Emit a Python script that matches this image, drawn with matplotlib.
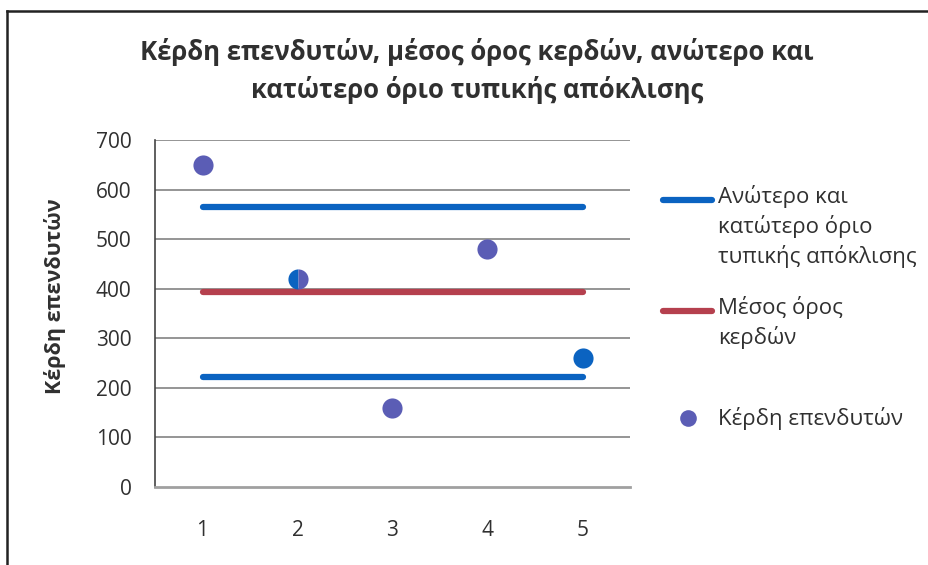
#!/usr/bin/env python3

import matplotlib
matplotlib.use('Agg')
import matplotlib.pyplot as plt
from matplotlib.lines import Line2D

# data
investors = [1, 2, 3, 4, 5]
profits = [650, 420, 160, 480, 260]
mean_profit = [393, 393, 393, 393, 393]
upper_sd = [565, 565, 565, 565, 565]
lower_sd = [222, 222, 222, 222, 222]

title = 'Κέρδη επενδυτών, μέσος όρος κερδών, ανώτερο και\nκατώτερο όριο τυπικής απόκλισης'
ylabel = 'Κέρδη επενδυτών'
label_sd = 'Ανώτερο και\nκατώτερο όριο\nτυπικής απόκλισης'
label_mean = 'Μέσος όρος\nκερδών'
label_pts = 'Κέρδη επενδυτών'

blue = '#0b63c1'
red = '#b5404e'
purple = '#5b5db5'
txt = '#303030'

plt.rcParams['font.family'] = ['Open Sans', 'DejaVu Sans']

W, H = 929, 565
fig = plt.figure(figsize=(W / 100, H / 100), dpi=100)
ax = fig.add_axes([155 / W, 1 - 487 / H, 475 / W, 347 / H])

for y in range(100, 701, 100):
    ax.axhline(y, color='#8c8c8c', lw=1.3, zorder=0)

ax.plot(investors, upper_sd, color=blue, lw=4.5, solid_capstyle='round', zorder=2)
ax.plot(investors, lower_sd, color=blue, lw=4.5, solid_capstyle='round', zorder=2)
ax.plot(investors, mean_profit, color=red, lw=4.5, solid_capstyle='round', zorder=2)

pt_colors = [purple, purple, purple, purple, blue]
for x, y, c in zip(investors, profits, pt_colors):
    if x == 2:
        ax.plot(x, y, 'o', ms=14.5, markeredgewidth=0, fillstyle='left',
                markerfacecolor=blue, markerfacecoloralt=purple, zorder=3)
    else:
        ax.plot(x, y, 'o', ms=14.5, markeredgewidth=0, color=c, zorder=3)

ax.set_xlim(0.5, 5.5)
ax.set_ylim(0, 700)
ax.set_xticks(investors)
ax.set_yticks(range(0, 701, 100))
ax.tick_params(axis='both', length=0, labelsize=15, labelcolor=txt)
ax.tick_params(axis='x', pad=24)
ax.tick_params(axis='y', pad=17)
for s in ['top', 'right']:
    ax.spines[s].set_visible(False)
ax.spines['left'].set_color('#444444')
ax.spines['left'].set_linewidth(1.2)
ax.spines['bottom'].set_color('#a0a0a0')
ax.spines['bottom'].set_linewidth(2)

fig.text(477 / W, 1 - 71 / H, title, ha='center', va='center', fontsize=18.5,
         fontweight='bold', color=txt, linespacing=1.45)
fig.text(55 / W, 1 - 296 / H, ylabel, ha='center', va='center', rotation=90,
         fontsize=15.5, fontweight='bold', color=txt)

# legend, drawn by hand to keep the Excel layout
fig.add_artist(Line2D([663 / W, 712 / W], [1 - 200 / H] * 2, color=blue, lw=4.5,
                      solid_capstyle='round'))
fig.add_artist(Line2D([663 / W, 712 / W], [1 - 311 / H] * 2, color=red, lw=4.5,
                      solid_capstyle='round'))
fig.add_artist(Line2D([688 / W], [1 - 418 / H], marker='o', ms=12, color=purple,
                      markeredgewidth=0, linestyle='none'))
fig.text(718 / W, 1 - 185 / H, label_sd, ha='left', va='top', fontsize=16,
         color=txt, linespacing=1.4)
fig.text(718 / W, 1 - 296 / H, label_mean, ha='left', va='top', fontsize=16,
         color=txt, linespacing=1.4)
fig.text(718 / W, 1 - 418 / H, label_pts, ha='left', va='center', fontsize=16,
         color=txt)

# frame around the chart
fig.add_artist(Line2D([7 / W, 7 / W], [0, 1 - 11 / H], color='#222222', lw=1.8))
fig.add_artist(Line2D([7 / W, 1], [1 - 11 / H] * 2, color='#222222', lw=1.8))

fig.savefig('out.png', dpi=100)
